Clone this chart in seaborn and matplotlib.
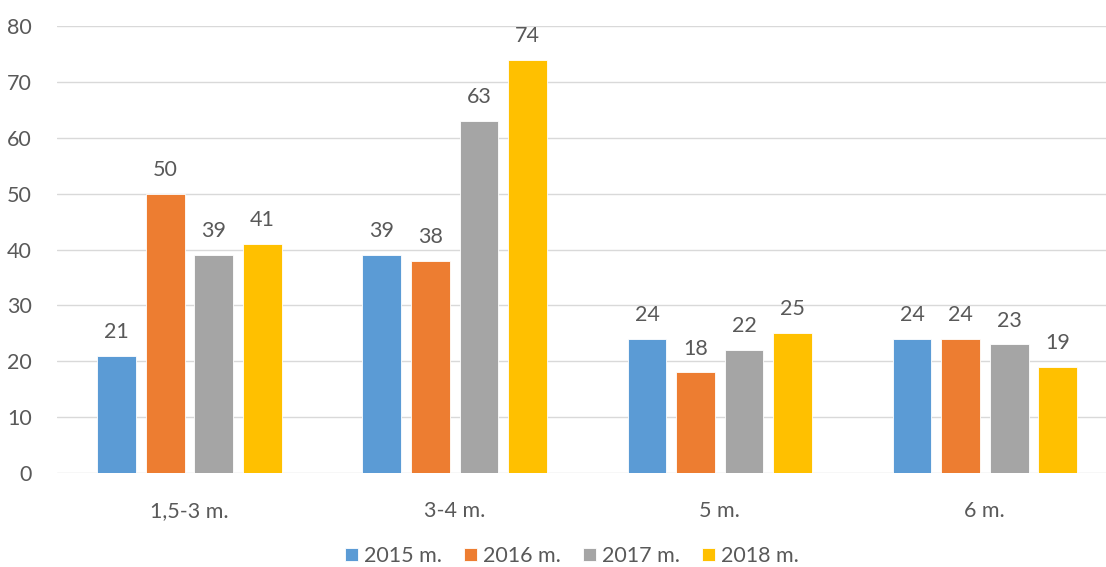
import matplotlib
matplotlib.use("Agg")
import matplotlib.pyplot as plt
import pandas as pd
import seaborn as sns

# -- Data ----------------------------------------------------------------------
categories = ["1,5-3 m.", "3-4 m.", "5 m.", "6 m."]
years = ["2015 m.", "2016 m.", "2017 m.", "2018 m."]
values_2015 = [21, 39, 24, 24]
values_2016 = [50, 38, 18, 24]
values_2017 = [39, 63, 22, 23]
values_2018 = [41, 74, 25, 19]

colors = ["#5B9BD5", "#ED7D31", "#A5A5A5", "#FFC000"]
TEXT = "#595959"
GRID = "#D9D9D9"
FS = 15.5

sns.set_theme(style="white")
plt.rcParams["font.family"] = ["Lato", "DejaVu Sans"]

rows = []
for year, vals in zip(years, [values_2015, values_2016, values_2017, values_2018]):
    for cat, v in zip(categories, vals):
        rows.append({"Category": cat, "Year": year, "Value": v})
df = pd.DataFrame(rows)

fig = plt.figure(figsize=(11.06, 5.67), dpi=100)
ax = fig.add_axes([57 / 1106, 94 / 567, 1 - 57 / 1106, (473 - 26) / 567])

sns.barplot(data=df, x="Category", y="Value", hue="Year", palette=colors,
            width=0.732, gap=0.2, saturation=1, legend=True, ax=ax,
            edgecolor="white", linewidth=0.6)

for cont in ax.containers:
    ax.bar_label(cont, padding=10, fontsize=FS, color=TEXT)

ax.set_ylim(0, 80)
ax.set_xlim(-0.5, 3.457)
ax.set_yticks(range(0, 81, 10))
ax.yaxis.grid(True, color=GRID, linewidth=1)
ax.set_axisbelow(True)
for s in ax.spines.values():
    s.set_visible(False)
ax.set_xlabel("")
ax.set_ylabel("")
ax.tick_params(axis="y", length=0, pad=18, labelsize=FS, labelcolor=TEXT)
ax.tick_params(axis="x", length=0, pad=20, labelsize=FS, labelcolor=TEXT)

handles, labels = ax.get_legend_handles_labels()
ax.get_legend().remove()
fig.legend(handles, labels, loc="center", bbox_to_anchor=(572 / 1106, 1 - 556 / 567),
           ncol=4, frameon=False, fontsize=FS, labelcolor=TEXT,
           handlelength=0.6, handleheight=0.6, handletextpad=0.3, columnspacing=1.0)

fig.savefig("out.png", dpi=100)
